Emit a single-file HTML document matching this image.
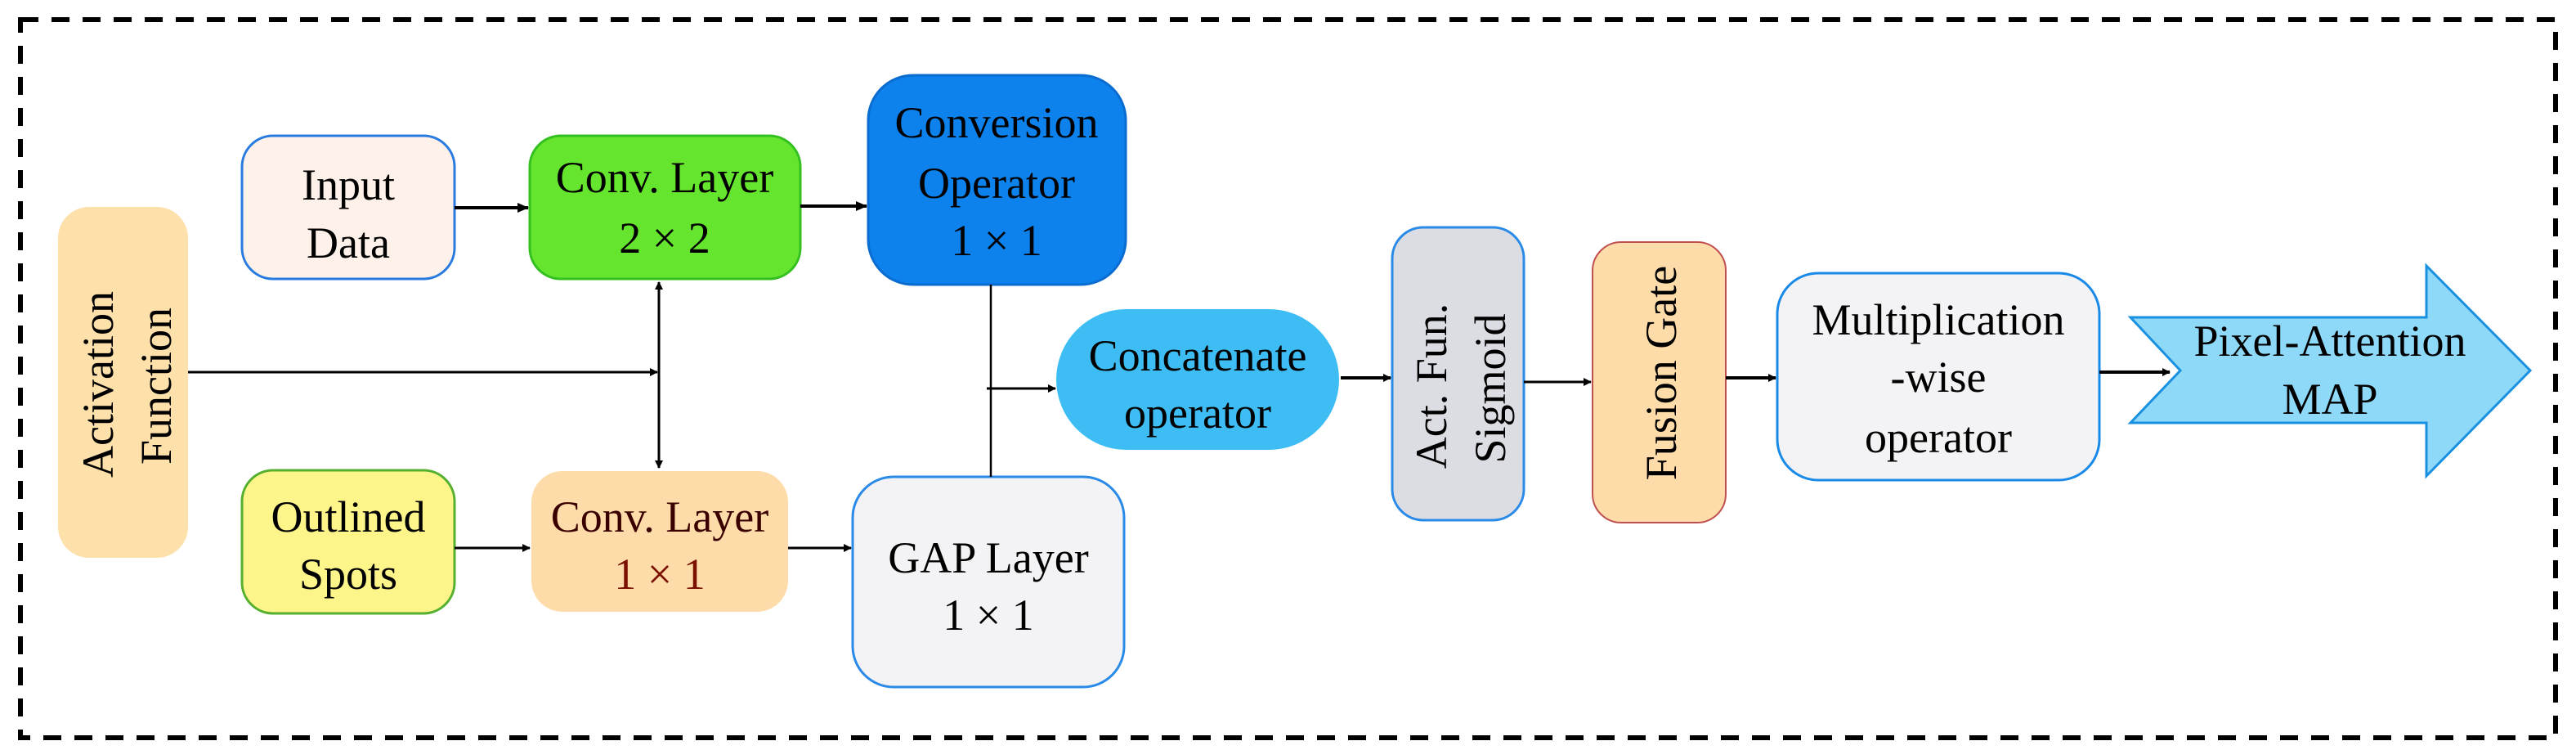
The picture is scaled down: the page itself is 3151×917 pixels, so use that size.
<!DOCTYPE html>
<html><head><meta charset="utf-8"><style>
html,body{margin:0;padding:0;background:#fff;width:3151px;height:917px;overflow:hidden}
svg{display:block}
</style></head><body>
<svg width="3151" height="917" viewBox="0 0 3151 917" xmlns="http://www.w3.org/2000/svg" font-family="'Liberation Serif', 'DejaVu Serif', serif" font-size="54" text-anchor="middle">
<defs>
<marker id="a" markerWidth="10" markerHeight="10" refX="9" refY="5" orient="auto" markerUnits="userSpaceOnUse"><path d="M0,0 L10,5 L0,10 z" fill="#000"/></marker>
<marker id="b" markerWidth="14" markerHeight="12" refX="13" refY="6" orient="auto" markerUnits="userSpaceOnUse"><path d="M0,0 L14,6 L0,12 z" fill="#000"/></marker>
</defs>
<rect x="25" y="24" width="3101" height="878" fill="none" stroke="#000" stroke-width="6" stroke-dasharray="22,16"/>

<rect x="71" y="253" width="159" height="429" rx="38" fill="#fde0aa"/>
<text transform="translate(138,470) rotate(-90)">Activation</text>
<text transform="translate(209,472) rotate(-90)">Function</text>

<rect x="296" y="166" width="260" height="175" rx="38" fill="#fdf1e9" stroke="#2a7be0" stroke-width="3"/>
<text x="426" y="244">Input</text><text x="426" y="315">Data</text>

<rect x="648" y="166" width="331" height="175" rx="38" fill="#66e52e" stroke="#33c020" stroke-width="3"/>
<text x="813" y="235">Conv. Layer</text><text x="813" y="309">2 × 2</text>

<rect x="1062" y="92" width="315" height="256" rx="55" fill="#0d82ec" stroke="#0a6cd0" stroke-width="3"/>
<text x="1219" y="168">Conversion</text><text x="1219" y="242">Operator</text><text x="1219" y="312">1 × 1</text>

<rect x="296" y="575" width="260" height="175" rx="38" fill="#fdf58a" stroke="#55b030" stroke-width="3"/>
<text x="426" y="650">Outlined</text><text x="426" y="720">Spots</text>

<rect x="650" y="576" width="314" height="172" rx="38" fill="#fddcaa"/>
<text x="807" y="650" fill="#3a0000">Conv. Layer</text><text x="807" y="720" fill="#7a1000">1 × 1</text>

<rect x="1043" y="583" width="332" height="257" rx="50" fill="#f3f3f5" stroke="#2a8ae8" stroke-width="3"/>
<text x="1209" y="700">GAP Layer</text><text x="1209" y="770">1 × 1</text>

<rect x="1292" y="378" width="346" height="172" rx="86" fill="#3dbdf3"/>
<text x="1465" y="453">Concatenate</text><text x="1465" y="523">operator</text>

<rect x="1703" y="278" width="161" height="358" rx="38" fill="#dcdde2" stroke="#2a8ae8" stroke-width="3"/>
<text transform="translate(1769,472) rotate(-90)">Act.  Fun.</text>
<text transform="translate(1841,475) rotate(-90)">Sigmoid</text>

<rect x="1948" y="296" width="163" height="343" rx="35" fill="#fddcaa" stroke="#c05050" stroke-width="2"/>
<text transform="translate(2050,456) rotate(-90)">Fusion Gate</text>

<rect x="2174" y="334" width="394" height="253" rx="50" fill="#f3f3f5" stroke="#1a8ae8" stroke-width="3"/>
<text x="2371" y="409">Multiplication</text><text x="2371" y="479">-wise</text><text x="2371" y="553">operator</text>

<path d="M2606,388 L2968,388 L2968,325 L3095,453 L2968,582 L2968,517 L2606,517 L2667,453 Z" fill="#8fd9f8" stroke="#1a90e0" stroke-width="3"/>
<text x="2850" y="435">Pixel-Attention</text><text x="2850" y="506">MAP</text>

<g stroke="#000" fill="none">
<line x1="556" y1="254" x2="646" y2="254" stroke-width="4" marker-end="url(#b)"/>
<line x1="979" y1="252" x2="1060" y2="252" stroke-width="4" marker-end="url(#b)"/>
<line x1="230" y1="455" x2="804" y2="455" stroke-width="3" marker-end="url(#a)"/>
<line x1="806" y1="455" x2="806" y2="345" stroke-width="3" marker-end="url(#a)"/>
<line x1="806" y1="455" x2="806" y2="572" stroke-width="3" marker-end="url(#a)"/>
<line x1="1212" y1="348" x2="1212" y2="583" stroke-width="2.5"/>
<line x1="1207" y1="475" x2="1291" y2="475" stroke-width="3" marker-end="url(#a)"/>
<line x1="556" y1="670" x2="648" y2="670" stroke-width="3" marker-end="url(#a)"/>
<line x1="964" y1="670" x2="1041" y2="670" stroke-width="3" marker-end="url(#a)"/>
<line x1="1640" y1="462" x2="1701" y2="462" stroke-width="4" marker-end="url(#a)"/>
<line x1="1864" y1="467" x2="1946" y2="467" stroke-width="3" marker-end="url(#a)"/>
<line x1="2111" y1="462" x2="2172" y2="462" stroke-width="4" marker-end="url(#a)"/>
<line x1="2568" y1="455" x2="2654" y2="455" stroke-width="4" marker-end="url(#a)"/>
</g>
</svg>
</body></html>
